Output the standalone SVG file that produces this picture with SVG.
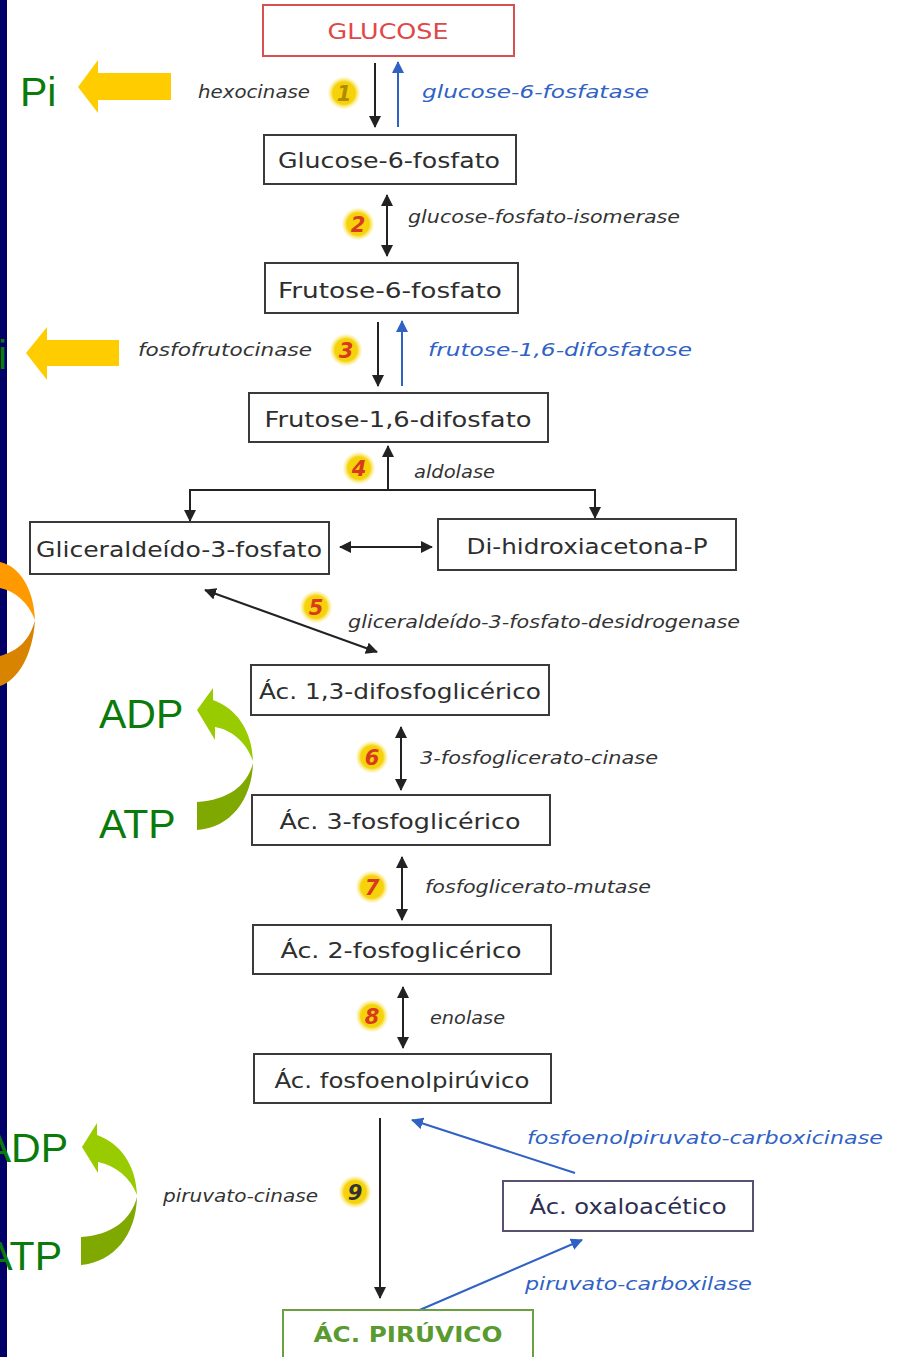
<svg xmlns="http://www.w3.org/2000/svg" width="902" height="1357" viewBox="0 0 902 1357">
<defs>
<style>
.box{fill:#fff;stroke:#3a3a3a;stroke-width:2}
.lbl{font-family:"DejaVu Sans",sans-serif;font-size:22px;fill:#2e2e2e;text-anchor:middle}
.enz{font-family:"DejaVu Sans",sans-serif;font-style:italic;font-size:17px;fill:#333}
.blue{fill:#2f62c4}
.ln{stroke:#222;stroke-width:2;fill:none}
.bln{stroke:#2f62c4;stroke-width:2;fill:none}
.num{font-family:"DejaVu Sans",sans-serif;font-style:italic;font-weight:bold;font-size:21px;fill:#d83a20;text-anchor:middle}
.big{font-family:"Liberation Sans",Arial,sans-serif;font-size:41px;fill:#0a7a0a}
</style>
<marker id="ah" viewBox="0 0 12 12" refX="11" refY="6" markerWidth="12" markerHeight="12" markerUnits="userSpaceOnUse" orient="auto-start-reverse"><path d="M0,0 L12,6 L0,12 Z" fill="#222"/></marker>
<marker id="bh" viewBox="0 0 12 12" refX="11" refY="6" markerWidth="12" markerHeight="12" markerUnits="userSpaceOnUse" orient="auto-start-reverse"><path d="M0,0 L12,6 L0,12 Z" fill="#2f62c4"/></marker>
<radialGradient id="glow"><stop offset="0.7" stop-color="#f6d20a"/><stop offset="1" stop-color="#fff3a0" stop-opacity="0.3"/></radialGradient>
</defs>
<rect x="0" y="0" width="902" height="1357" fill="#fff"/>
<rect x="0" y="0" width="7" height="1357" fill="#000066"/>

<!-- left side graphics -->
<g id="pi-arrow-1">
<path d="M78,87 L98,60 L98,73 L171,73 L171,100 L98,100 L98,113 Z" fill="#ffcc00"/>
<text class="big" x="20" y="106" font-size="38">Pi</text>
</g>
<g id="pi-arrow-2">
<path d="M26,353 L47,327 L47,340 L119,340 L119,366 L47,366 L47,380 Z" fill="#ffcc00"/>
<text class="big" x="7" y="369" font-size="38" text-anchor="end">Pi</text>
</g>
<g id="orange-cycle">
<path d="M0,562 C20,566 34,590 35,620 C28,602 15,591 0,588 Z" fill="#ff9900"/>
<path d="M35,620 C33,655 18,680 0,686 L0,656 C18,651 30,640 35,620 Z" fill="#d98400"/>
</g>
<g id="adp-atp-1">
<path d="M197,710 L213,688 L213,700 C236,708 252,730 253,761 C246,742 232,730 215,727 L215,740 Z" fill="#99cc00"/>
<path d="M253,763 C252,800 230,828 197,830 L197,802 C228,800 247,786 253,763 Z" fill="#7fa800"/>
<text class="big" x="99" y="728">ADP</text>
<text class="big" x="99" y="838">ATP</text>
</g>
<g id="adp-atp-2">
<path d="M82,1147 L97,1123 L97,1135 C120,1143 136,1165 137,1195 C130,1177 116,1166 98,1162 L98,1173 Z" fill="#99cc00"/>
<path d="M137,1197 C136,1235 114,1262 81,1265 L81,1237 C112,1235 131,1220 137,1197 Z" fill="#7fa800"/>
<text class="big" x="68" y="1162" text-anchor="end">ADP</text>
<text class="big" x="62" y="1270" text-anchor="end">ATP</text>
</g>

<!-- connectors -->
<g id="connectors">
<line class="ln" x1="375" y1="63" x2="375" y2="127" marker-end="url(#ah)"/>
<line class="bln" x1="398" y1="127" x2="398" y2="62" marker-end="url(#bh)"/>
<line class="ln" x1="387" y1="195" x2="387" y2="256" marker-start="url(#ah)" marker-end="url(#ah)"/>
<line class="ln" x1="378" y1="322" x2="378" y2="386" marker-end="url(#ah)"/>
<line class="bln" x1="402" y1="386" x2="402" y2="321" marker-end="url(#bh)"/>
<line class="ln" x1="388" y1="490" x2="388" y2="446" marker-end="url(#ah)"/>
<polyline class="ln" points="190,521 190,490 595,490 595,518" marker-start="url(#ah)" marker-end="url(#ah)"/>
<line class="ln" x1="340" y1="547" x2="432" y2="547" marker-start="url(#ah)" marker-end="url(#ah)"/>
<line class="ln" x1="205" y1="590" x2="377" y2="652" marker-start="url(#ah)" marker-end="url(#ah)"/>
<line class="ln" x1="401" y1="727" x2="401" y2="790" marker-start="url(#ah)" marker-end="url(#ah)"/>
<line class="ln" x1="402" y1="857" x2="402" y2="920" marker-start="url(#ah)" marker-end="url(#ah)"/>
<line class="ln" x1="403" y1="987" x2="403" y2="1048" marker-start="url(#ah)" marker-end="url(#ah)"/>
<line class="ln" x1="380" y1="1118" x2="380" y2="1298" marker-end="url(#ah)"/>
<line class="bln" x1="575" y1="1173" x2="412" y2="1120" marker-end="url(#bh)"/>
<line class="bln" x1="415" y1="1312" x2="582" y2="1240" marker-end="url(#bh)"/>
</g>

<!-- badges -->
<g id="badges">
<circle cx="344" cy="93" r="16" fill="url(#glow)"/><text class="num" x="344" y="101" style="fill:#b08a00">1</text>
<circle cx="358" cy="224" r="16" fill="url(#glow)"/><text class="num" x="358" y="232">2</text>
<circle cx="346" cy="350" r="16" fill="url(#glow)"/><text class="num" x="346" y="358">3</text>
<circle cx="359" cy="468" r="16" fill="url(#glow)"/><text class="num" x="359" y="476">4</text>
<circle cx="316" cy="607" r="16" fill="url(#glow)"/><text class="num" x="316" y="615">5</text>
<circle cx="372" cy="757" r="16" fill="url(#glow)"/><text class="num" x="372" y="765">6</text>
<circle cx="372" cy="887" r="16" fill="url(#glow)"/><text class="num" x="372" y="895">7</text>
<circle cx="372" cy="1016" r="16" fill="url(#glow)"/><text class="num" x="372" y="1024">8</text>
<circle cx="355" cy="1192" r="16" fill="url(#glow)"/><text class="num" x="355" y="1200" style="fill:#333">9</text>
</g>

<!-- enzyme labels -->
<g id="enzymes">
<text class="enz" x="198" y="98" textLength="112" lengthAdjust="spacingAndGlyphs">hexocinase</text>
<text class="enz blue" x="422" y="98" textLength="227" lengthAdjust="spacingAndGlyphs" font-size="19">glucose-6-fosfatase</text>
<text class="enz" x="408" y="223" textLength="272" lengthAdjust="spacingAndGlyphs">glucose-fosfato-isomerase</text>
<text class="enz" x="138" y="356" textLength="174" lengthAdjust="spacingAndGlyphs">fosfofrutocinase</text>
<text class="enz blue" x="428" y="356" textLength="264" lengthAdjust="spacingAndGlyphs" font-size="19">frutose-1,6-difosfatose</text>
<text class="enz" x="414" y="478" textLength="81" lengthAdjust="spacingAndGlyphs">aldolase</text>
<text class="enz" x="348" y="628" textLength="392" lengthAdjust="spacingAndGlyphs">gliceraldeído-3-fosfato-desidrogenase</text>
<text class="enz" x="420" y="764" textLength="238" lengthAdjust="spacingAndGlyphs">3-fosfoglicerato-cinase</text>
<text class="enz" x="425" y="893" textLength="226" lengthAdjust="spacingAndGlyphs">fosfoglicerato-mutase</text>
<text class="enz" x="430" y="1024" textLength="75" lengthAdjust="spacingAndGlyphs">enolase</text>
<text class="enz" x="163" y="1202" textLength="155" lengthAdjust="spacingAndGlyphs">piruvato-cinase</text>
<text class="enz blue" x="527" y="1144" textLength="356" lengthAdjust="spacingAndGlyphs">fosfoenolpiruvato-carboxicinase</text>
<text class="enz blue" x="525" y="1290" textLength="227" lengthAdjust="spacingAndGlyphs">piruvato-carboxilase</text>
</g>

<!-- nodes -->
<g id="glucose"><rect class="box" x="263" y="5" width="251" height="51" style="stroke:#d85050"/><text class="lbl" x="388" y="39" textLength="121" lengthAdjust="spacingAndGlyphs" style="fill:#e04848">GLUCOSE</text></g>
<g id="glucose-6-fosfato"><rect class="box" x="264" y="135" width="252" height="49"/><text class="lbl" x="389" y="168" textLength="222" lengthAdjust="spacingAndGlyphs">Glucose-6-fosfato</text></g>
<g id="frutose-6-fosfato"><rect class="box" x="265" y="263" width="253" height="50"/><text class="lbl" x="390" y="298" textLength="224" lengthAdjust="spacingAndGlyphs">Frutose-6-fosfato</text></g>
<g id="frutose-1-6-difosfato"><rect class="box" x="249" y="393" width="299" height="49"/><text class="lbl" x="398" y="427" textLength="267" lengthAdjust="spacingAndGlyphs">Frutose-1,6-difosfato</text></g>
<g id="gliceraldeido-3-fosfato"><rect class="box" x="30" y="522" width="299" height="52"/><text class="lbl" x="179" y="557" textLength="286" lengthAdjust="spacingAndGlyphs">Gliceraldeído-3-fosfato</text></g>
<g id="di-hidroxiacetona-p"><rect class="box" x="438" y="519" width="298" height="51"/><text class="lbl" x="587" y="554" textLength="241" lengthAdjust="spacingAndGlyphs">Di-hidroxiacetona-P</text></g>
<g id="ac-1-3-difosfoglicerico"><rect class="box" x="251" y="665" width="298" height="50"/><text class="lbl" x="400" y="699" textLength="282" lengthAdjust="spacingAndGlyphs">Ác. 1,3-difosfoglicérico</text></g>
<g id="ac-3-fosfoglicerico"><rect class="box" x="252" y="795" width="298" height="50"/><text class="lbl" x="400" y="829" textLength="241" lengthAdjust="spacingAndGlyphs">Ác. 3-fosfoglicérico</text></g>
<g id="ac-2-fosfoglicerico"><rect class="box" x="253" y="925" width="298" height="49"/><text class="lbl" x="401" y="958" textLength="241" lengthAdjust="spacingAndGlyphs">Ác. 2-fosfoglicérico</text></g>
<g id="ac-fosfoenolpiruvico"><rect class="box" x="254" y="1054" width="297" height="49"/><text class="lbl" x="402" y="1088" textLength="255" lengthAdjust="spacingAndGlyphs">Ác. fosfoenolpirúvico</text></g>
<g id="ac-oxaloacetico"><rect class="box" x="503" y="1181" width="250" height="50" style="stroke:#5a5070"/><text class="lbl" x="628" y="1214" textLength="197" lengthAdjust="spacingAndGlyphs" style="fill:#2e2e50">Ác. oxaloacético</text></g>
<g id="ac-piruvico"><rect class="box" x="283" y="1310" width="250" height="60" style="stroke:#6aa040"/><text class="lbl" x="408" y="1342" textLength="189" lengthAdjust="spacingAndGlyphs" style="fill:#5a9a30;font-weight:bold">ÁC. PIRÚVICO</text></g>
</svg>
